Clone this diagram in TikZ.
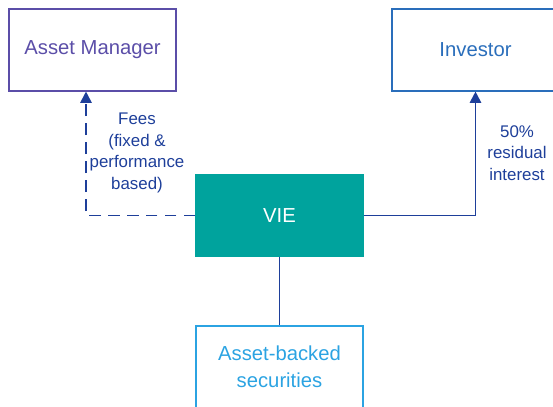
\documentclass[tikz,border=0pt]{standalone}
\usepackage{fontspec}
\setmainfont{Liberation Sans}
\usetikzlibrary{positioning, arrows.meta}

\definecolor{mgrpurple}{HTML}{5B4EA8}
\definecolor{invblue}{HTML}{2A6EBB}
\definecolor{vieteal}{HTML}{00A39D}
\definecolor{absblue}{HTML}{2BA3E2}
\definecolor{arrowblue}{HTML}{1E3F9A}

\begin{document}
\begin{tikzpicture}[x=0.025cm, y=-0.025cm,
    box/.style={draw, line width=0.75pt, minimum width=4.175cm, minimum height=2.05cm,
        inner sep=0pt, align=center, font=\fontsize{14.4}{19.2}\selectfont},
    flow/.style={draw=arrowblue, line width=1.3pt},
    tip/.style={-{Triangle[length=8pt, width=8pt]}},
    lbl/.style={text=arrowblue, align=center, font=\fontsize{12}{15.5}\selectfont}]
    \clip (0,0) rectangle (553,407);
    % --- boxes ---
    \node[box, draw=mgrpurple, text=mgrpurple] (mgr) at (92.5,50) {Asset Manager};
    \node[box, draw=invblue, text=invblue] (inv) at (475.5,50) {Investor};
    \node[box, draw=vieteal, fill=vieteal, text=white] (vie) at (279.5,215.5) {VIE};
    \node[box, draw=absblue, text=absblue] (abs) at (279.5,367) {Asset-backed\\securities};
    % --- flows ---
    \draw[flow, tip, dash pattern=on 8.5pt off 5pt] (vie.west) -| ([xshift=-0.1625cm]mgr.south);
    \draw[flow, tip] (vie.east) -| (inv.south);
    \draw[flow] (vie.south) -- (abs.north);
    % --- labels ---
    \node[lbl] (fees) at (137,153) {Fees\\(fixed \&\\performance\\based)};
    \node[lbl] (resid) at (517,153) {50\%\\residual\\interest};
\end{tikzpicture}
\end{document}
